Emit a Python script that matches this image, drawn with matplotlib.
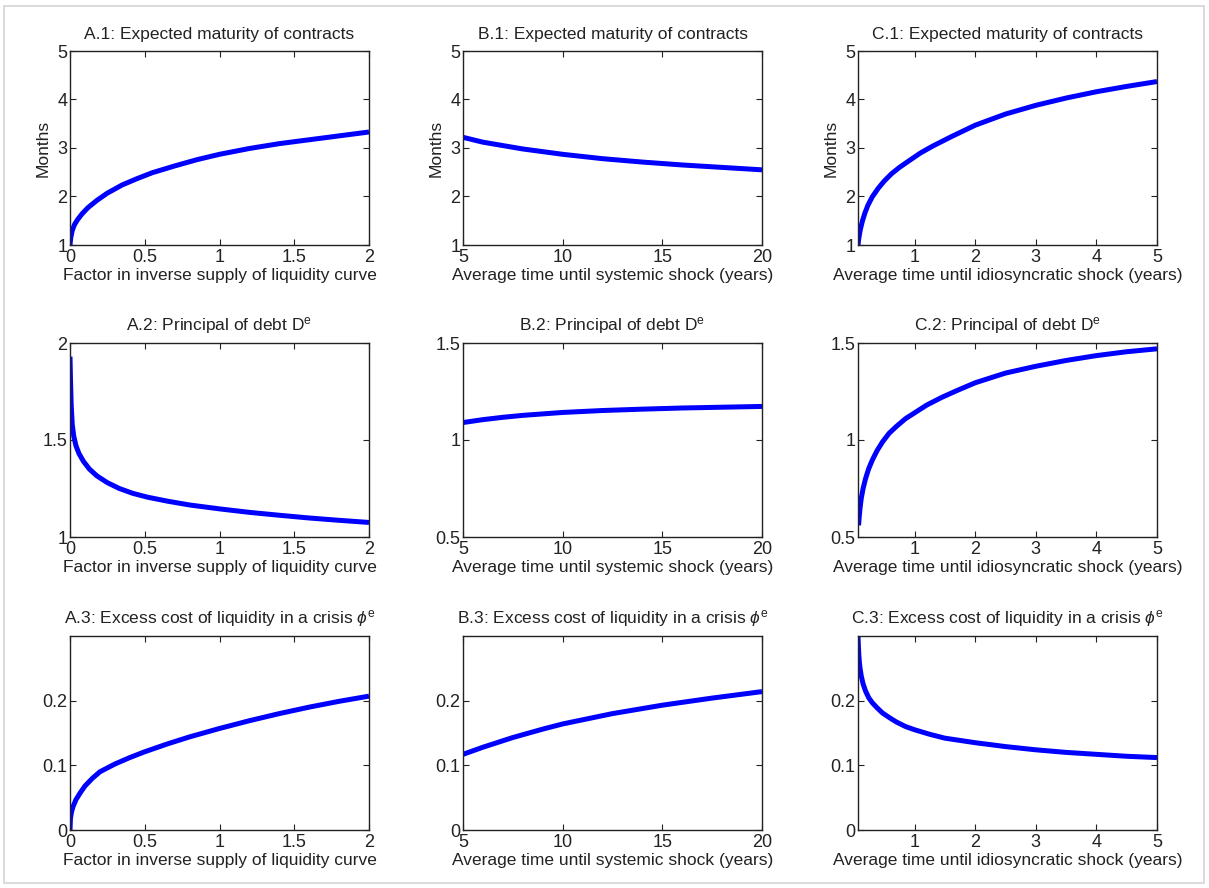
import matplotlib
matplotlib.use("Agg")
import matplotlib.pyplot as plt
from matplotlib.ticker import StrMethodFormatter
from matplotlib.patches import Rectangle

plt.rcParams["font.family"] = ["Liberation Sans", "DejaVu Sans"]
plt.rcParams["mathtext.fontset"] = "custom"
plt.rcParams["mathtext.rm"] = "Liberation Sans"
plt.rcParams["mathtext.it"] = "Liberation Sans:italic"
plt.rcParams["mathtext.sf"] = "Liberation Sans"

# Panel A: factor in inverse supply of liquidity curve
a_x1 = [0, 0.005, 0.015, 0.03, 0.05, 0.08, 0.12, 0.18, 0.25, 0.35, 0.45, 0.55, 0.7,
        0.85, 1.0, 1.2, 1.4, 1.6, 1.8, 2.0]
a_maturity = [1.0, 1.15, 1.3, 1.42, 1.52, 1.64, 1.77, 1.92, 2.07, 2.24, 2.37, 2.49, 2.63,
              2.76, 2.87, 2.99, 3.09, 3.17, 3.25, 3.33]

a_x2 = [0, 0.003, 0.008, 0.015, 0.025, 0.04, 0.06, 0.09, 0.13, 0.18, 0.25, 0.33, 0.42,
        0.52, 0.65, 0.8, 1.0, 1.2, 1.4, 1.6, 1.8, 2.0]
a_debt = [1.93, 1.82, 1.68, 1.58, 1.52, 1.47, 1.43, 1.39, 1.35, 1.315, 1.28, 1.25, 1.225,
          1.205, 1.185, 1.165, 1.145, 1.127, 1.112, 1.098, 1.086, 1.075]

a_x3 = [0, 0.003, 0.01, 0.02, 0.04, 0.07, 0.1, 0.15, 0.2, 0.3, 0.4, 0.5, 0.65, 0.8,
        1.0, 1.2, 1.4, 1.6, 1.8, 2.0]
a_cost = [0, 0.018, 0.028, 0.036, 0.047, 0.058, 0.068, 0.08, 0.09, 0.102, 0.112, 0.121,
          0.133, 0.144, 0.157, 0.169, 0.18, 0.19, 0.199, 0.207]

# Panel B: average time until systemic shock
b_x1 = [5, 6, 7, 8, 10, 12, 14, 16, 18, 20]
b_maturity = [3.22, 3.12, 3.05, 2.98, 2.87, 2.78, 2.71, 2.65, 2.60, 2.55]

b_x2 = [5, 6, 7, 8, 10, 12, 14, 16, 18, 20]
b_debt = [1.09, 1.105, 1.117, 1.127, 1.142, 1.152, 1.159, 1.165, 1.169, 1.173]

b_x3 = [5, 6, 7.5, 9, 10, 12.5, 15, 17.5, 20]
b_cost = [0.117, 0.128, 0.143, 0.156, 0.164, 0.18, 0.193, 0.204, 0.214]

# Panel C: average time until idiosyncratic shock
c_x1 = [0.066, 0.075, 0.09, 0.11, 0.14, 0.18, 0.23, 0.3, 0.4, 0.5, 0.62, 0.75, 0.9,
        1.1, 1.3, 1.6, 2.0, 2.5, 3, 3.5, 4, 4.5, 5]
c_maturity = [1.0, 1.1, 1.22, 1.35, 1.5, 1.66, 1.82, 1.99, 2.17, 2.32, 2.47, 2.6, 2.73,
              2.9, 3.04, 3.23, 3.47, 3.7, 3.88, 4.03, 4.16, 4.27, 4.37]

c_x2 = [0.075, 0.085, 0.1, 0.12, 0.15, 0.19, 0.24, 0.3, 0.38, 0.47, 0.58, 0.7, 0.85,
        1.0, 1.2, 1.45, 1.7, 2.0, 2.5, 3, 3.5, 4, 4.5, 5]
c_debt = [0.56, 0.6, 0.65, 0.7, 0.75, 0.8, 0.85, 0.895, 0.945, 0.99, 1.035, 1.07, 1.11,
          1.14, 1.18, 1.22, 1.255, 1.295, 1.345, 1.38, 1.41, 1.435, 1.455, 1.47]

c_x3 = [0.066, 0.072, 0.08, 0.09, 0.1, 0.12, 0.15, 0.19, 0.24, 0.3, 0.38, 0.47, 0.58,
        0.7, 0.85, 1.0, 1.25, 1.5, 2, 2.5, 3, 3.5, 4, 4.5, 5]
c_cost = [0.30, 0.285, 0.27, 0.258, 0.25, 0.238, 0.226, 0.215, 0.205, 0.197, 0.189, 0.181,
          0.174, 0.167, 0.16, 0.155, 0.148, 0.142, 0.135, 0.129, 0.124, 0.12, 0.117,
          0.114, 0.112]

row_titles = [
    "Expected maturity of contracts",
    r"Principal of debt D$^{\mathrm{e}}$",
    r"Excess cost of liquidity in a crisis $\phi^{\mathrm{e}}$",
]
col_letters = ["A", "B", "C"]
col_xlabels = [
    "Factor in inverse supply of liquidity curve",
    "Average time until systemic shock (years)",
    "Average time until idiosyncratic shock (years)",
]
col_xlims = [(0, 2), (5, 20), (0.066, 5)]
col_xticks = [[0, 0.5, 1, 1.5, 2], [5, 10, 15, 20], [1, 2, 3, 4, 5]]
row_ylims = {
    "A": [(1, 5), (1, 2), (0, 0.3)],
    "B": [(1, 5), (0.5, 1.5), (0, 0.3)],
    "C": [(1, 5), (0.5, 1.5), (0, 0.3)],
}
row_yticks = {
    "A": [[1, 2, 3, 4, 5], [1, 1.5, 2], [0, 0.1, 0.2]],
    "B": [[1, 2, 3, 4, 5], [0.5, 1, 1.5], [0, 0.1, 0.2]],
    "C": [[1, 2, 3, 4, 5], [0.5, 1, 1.5], [0, 0.1, 0.2]],
}
series = {
    "A": [(a_x1, a_maturity), (a_x2, a_debt), (a_x3, a_cost)],
    "B": [(b_x1, b_maturity), (b_x2, b_debt), (b_x3, b_cost)],
    "C": [(c_x1, c_maturity), (c_x2, c_debt), (c_x3, c_cost)],
}

W, H = 1209, 888
fig = plt.figure(figsize=(W / 100, H / 100), dpi=100)
fig.patches.append(Rectangle((4 / W, 5 / H), (W - 9) / W, (H - 11) / H,
                             transform=fig.transFigure, fill=False,
                             edgecolor="#d4d4d4", linewidth=1.2))

col_left = [70, 463, 858]
row_top = [51, 343, 636]
ax_w, ax_h = 299, 194
txt = "#222222"

for c, letter in enumerate(col_letters):
    for r in range(3):
        ax = fig.add_axes([col_left[c] / W, 1 - (row_top[r] + ax_h) / H, ax_w / W, ax_h / H])
        x, y = series[letter][r]
        ax.plot(x, y, color="#0000ff", linewidth=3.6, solid_capstyle="butt")
        ax.set_xlim(*col_xlims[c])
        ax.set_ylim(*row_ylims[letter][r])
        ax.set_xticks(col_xticks[c])
        ax.set_yticks(row_yticks[letter][r])
        ax.xaxis.set_major_formatter(StrMethodFormatter("{x:g}"))
        ax.yaxis.set_major_formatter(StrMethodFormatter("{x:g}"))
        ax.tick_params(direction="in", length=4, width=0.8, labelsize=13,
                       top=True, right=True, colors=txt)
        ax.tick_params(axis="x", pad=3)
        ax.tick_params(axis="y", pad=2)
        for s in ax.spines.values():
            s.set_linewidth(1.0)
            s.set_color(txt)
        ax.set_title(f"{letter}.{r + 1}: {row_titles[r]}", fontsize=12.5, pad=9, color=txt)
        ax.set_xlabel(col_xlabels[c], fontsize=12.5, labelpad=1, color=txt)
        if r == 0:
            ax.set_ylabel("Months", fontsize=12.5, labelpad=5, color=txt)

fig.savefig("out.png", dpi=100)
